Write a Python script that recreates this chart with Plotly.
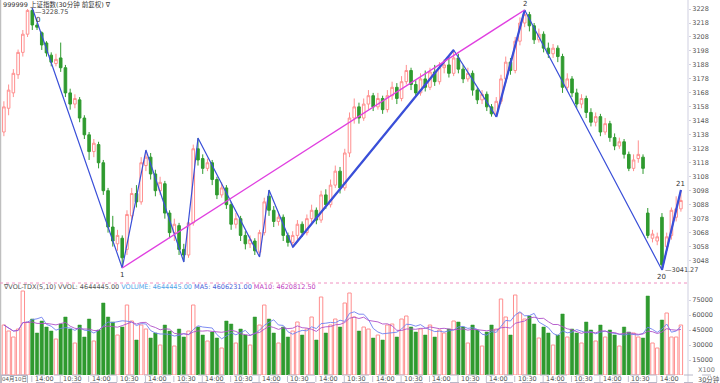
import plotly.graph_objects as go
import pandas as pd

# ---------------- data ----------------
opens = [3140,3157,3168,3181,3197,3210,3227,3216.5,3211,3203.7,3195,3189,3193,3186,3168,3160,3163,3150,3138,3126,
         3131,3118,3098,3072,3060,3064,3056,3080,3096,3090,3116,3122,3110,3098,3103,3082,3068,3073,3056,3052,
         3075,3128,3121,3114,3118,3106,3095,3100,3088,3074,3078,3066,3060,3062,3054,3068,3094,3084,3076,3079,
         3066,3061,3066,3074,3068,3078,3084,3077,3095,3088,3102,3112,3100,3125,3150,3158,3150,3160,3166,3158,
         3164,3156,3166,3172,3164,3176,3184,3174,3168,3178,3172,3183,3176,3186,3188,3182,3193,3185,3178,3182,
         3170,3163,3167,3158,3153,3162,3178,3190,3184,3205,3218,3224,3216,3206,3210,3200,3196,3200,3194,3172,
         3178,3168,3160,3164,3154,3147,3151,3140,3146,3136,3130,3133,3124,3114,3121,3122,3082,3064,3062,3079,
         3058,3066,3079,3085]
highs = [3162,3174,3185,3199,3213,3228,3228.75,3218,3212,3205,3197,3196,3204,3188,3171,3167,3165,3152,3140,3135,
         3133,3120,3100,3080,3070,3066,3084,3100,3102,3122,3127.1,3125,3113,3108,3105,3084,3078,3075,3060,3078,
         3131,3135.7,3124,3121,3120,3108,3104,3102,3090,3082,3080,3069,3066,3064,3070,3093,3098.5,3087,3083,3081,
         3068,3069,3077,3076,3081,3088,3086,3098,3099,3106,3116,3115,3128,3154,3164,3161,3164,3170,3168,3168,
         3166,3170,3176,3175,3180,3188,3186,3177,3182,3184,3186,3188,3190,3192,3194,3198.7,3196,3188,3186,3184,
         3172,3170,3169,3160,3165,3181,3194,3193,3208,3222,3227.3,3226,3218,3214,3212,3204,3203,3202,3196,3182,
         3180,3171,3167,3166,3157,3154,3153,3150,3148,3139,3136,3135,3126,3124,3134,3124,3085.6,3070,3068,3082,
         3068,3086,3094,3098.5]
lows = [3137,3152,3165,3178,3194,3208,3213,3213,3198.7,3194,3187,3187,3183,3165,3156,3157,3147,3135,3120,3122,
        3114,3095,3068,3058,3055,3042.7,3052,3077,3086,3088,3112,3106,3094,3095,3078,3064,3062,3052,3047,3050,
        3073,3116,3110,3112,3102,3092,3093,3085,3070,3071,3062,3056,3057,3052,3050.6,3066,3080,3072,3073,3062,
        3058,3057.7,3063,3065,3066,3075,3074,3075,3085,3086,3100,3096,3098,3122,3146,3146,3148,3156,3155,3156,
        3153,3154,3163,3160,3162,3174,3170,3165,3166,3169,3170,3173,3174,3182,3179,3180,3182,3175,3176,3166,
        3160,3160,3155,3151,3150.8,3160,3175,3181,3182,3202,3215,3212,3203,3204,3197,3193,3193,3190,3168,3170,
        3165,3157,3157,3150,3144,3144,3137,3138,3133,3127,3128,3121,3112,3112,3118,3110,3064,3061,3059,3041.27,
        3055,3063,3076,3083]
closes = [3158,3170,3182,3197,3210,3227,3216.6,3215,3202.3,3196.6,3190,3192,3186,3168,3160,3164,3150,3138,3126,3132,
          3118,3098,3072,3062,3066,3050,3081,3096,3090,3118,3122,3110,3098,3104,3082,3068,3074,3056,3052,3075,
          3128,3120,3114,3118,3106,3095,3100,3088,3074,3078,3066,3060,3063,3055,3068,3090,3084,3076,3079,3066,
          3061,3066,3074,3068,3078,3084,3077,3095,3088,3102,3112,3100,3125,3150,3158,3150,3160,3166,3158,3164,
          3156,3166,3172,3164,3176,3184,3174,3168,3178,3172,3183,3176,3186,3188,3182,3193,3185,3178,3182,3170,
          3163,3167,3158,3153,3162,3178,3190,3184,3205,3218,3224,3216,3206,3210,3200,3196,3200,3194,3172,3178,
          3168,3160,3164,3154,3147,3151,3140,3146,3136,3130,3133,3124,3114,3120,3124,3114,3066,3067,3065,3045,
          3065,3084,3085,3091]
volumes = [50000,44000,38000,46000,84000,53000,56000,42000,54000,48000,44000,36000,51000,58000,46000,32000,50000,38000,56000,34000,
           45000,72000,58000,53000,40000,48000,70000,54000,35000,50000,46000,37000,42000,30000,50000,44000,29000,46000,38000,44000,
           70000,48000,40000,34000,43000,37000,27000,54000,51000,32000,46000,40000,30000,58000,50000,70000,56000,42000,32000,48000,
           38000,44000,53000,40000,46000,58000,35000,78000,42000,50000,56000,48000,72000,82000,58000,44000,48000,46000,37000,40000,
           35000,50000,51000,38000,56000,59000,48000,43000,46000,40000,50000,38000,45000,42000,46000,54000,53000,48000,32000,50000,
           45000,29000,43000,50000,46000,76000,58000,40000,80000,62000,56000,59000,51000,37000,48000,42000,30000,40000,61000,38000,
           46000,42000,32000,53000,45000,34000,50000,38000,45000,40000,29000,48000,43000,42000,38000,37000,79000,32000,27000,55000,
           62000,38000,38000,50000]
bars = list(range(len(opens)))

tick_pos = [7,13,19,25,31,37,43,49,55,61,67,73,79,85,91,97,103,109,115,121,127,133,139]
tick_text = ["14:00","10:30","14:00","10:30","14:00","10:30","14:00","10:30","14:00","10:30","14:00","10:30",
             "14:00","10:30","14:00","10:30","14:00","10:30","14:00","10:30","14:00","10:30","14:00"]
price_ticks = [3048,3058,3068,3078,3088,3098,3108,3118,3128,3138,3148,3158,3168,3178,3188,3198,3208,3218,3228]
vol_ticks = [15000,30000,45000,60000,75000]

# zigzag turning points (bar index, price)
zig_x = [6,25,30,38,41,54,56,61,95,104,110,139,143]
zig_y = [3228.75,3042.7,3127.1,3047.0,3135.7,3050.6,3098.5,3057.7,3198.7,3150.8,3227.3,3041.27,3098.5]
thick_pairs = [(7,8),(9,10),(11,12)]
trend_pair = (1,10)
zig_labels = {0:"0",1:"1",10:"2",11:"20",12:"21"}

# ---------------- style ----------------
UP = "#ff8f8f"
DOWN = "#2f9a2f"
BLUE = "#3a4fd8"
MAG = "#e040e0"
AX = "#cfcfe0"
TXT = "#555555"
FONT = "DejaVu Sans, Noto Sans CJK SC, sans-serif"

ser = pd.Series(volumes, dtype=float)
ma5 = ser.rolling(5, min_periods=1).mean()
ma10 = ser.rolling(10, min_periods=1).mean()

fig = go.Figure()
fig.add_trace(go.Candlestick(
    x=bars, open=opens, high=highs, low=lows, close=closes,
    increasing=dict(line=dict(color=UP, width=1), fillcolor="white"),
    decreasing=dict(line=dict(color=DOWN, width=1), fillcolor=DOWN),
    whiskerwidth=0, xaxis="x", yaxis="y", showlegend=False, hoverinfo="skip"))

fig.add_trace(go.Scatter(x=zig_x, y=zig_y, mode="lines", line=dict(color=BLUE, width=1.2),
                         xaxis="x", yaxis="y", hoverinfo="skip"))
for a, b in thick_pairs:
    fig.add_trace(go.Scatter(x=[zig_x[a], zig_x[b]], y=[zig_y[a], zig_y[b]], mode="lines",
                             line=dict(color=BLUE, width=2.2), xaxis="x", yaxis="y", hoverinfo="skip"))
a, b = trend_pair
fig.add_trace(go.Scatter(x=[zig_x[a], zig_x[b]], y=[zig_y[a], zig_y[b]], mode="lines",
                         line=dict(color=MAG, width=1.4), xaxis="x", yaxis="y", hoverinfo="skip"))

up_x = [b for b, o, c in zip(bars, opens, closes) if c >= o]
up_v = [v for v, o, c in zip(volumes, opens, closes) if c >= o]
dn_x = [b for b, o, c in zip(bars, opens, closes) if c < o]
dn_v = [v for v, o, c in zip(volumes, opens, closes) if c < o]
fig.add_trace(go.Bar(x=up_x, y=up_v, width=0.72, marker=dict(color="white", line=dict(color=UP, width=1)),
                     xaxis="x2", yaxis="y2", hoverinfo="skip"))
fig.add_trace(go.Bar(x=dn_x, y=dn_v, width=0.72, marker=dict(color=DOWN, line=dict(color=DOWN, width=0.5)),
                     xaxis="x2", yaxis="y2", hoverinfo="skip"))
fig.add_trace(go.Scatter(x=bars, y=ma5, mode="lines", line=dict(color="#6f7ff0", width=0.9),
                         xaxis="x2", yaxis="y2", hoverinfo="skip"))
fig.add_trace(go.Scatter(x=bars, y=ma10, mode="lines", line=dict(color="#b050c8", width=0.9),
                         xaxis="x2", yaxis="y2", hoverinfo="skip"))

XR = [-0.82, 144.5]
PH = 375.0  # plot-area height in px

def py(px):
    return (PH - px) / PH

fig.update_layout(
    width=720, height=383, margin=dict(l=0, r=32, t=0, b=8, pad=0),
    paper_bgcolor="white", plot_bgcolor="white", showlegend=False, barmode="overlay",
    boxgap=0.22,
    font=dict(family=FONT, size=7, color=TXT),
    xaxis=dict(domain=[0, 1], range=XR, anchor="y", showticklabels=False, showgrid=False,
               zeroline=False, rangeslider=dict(visible=False), fixedrange=True),
    yaxis=dict(domain=[py(282), py(3)], range=[3032.67, 3232.32], side="right",
               tickvals=price_ticks, ticks="outside", ticklen=2, tickcolor=AX,
               showline=False, showgrid=False, zeroline=False, automargin=False,
               tickfont=dict(size=6.5, color=TXT, family=FONT)),
    xaxis2=dict(domain=[0, 1], range=XR, anchor="y2", showticklabels=False,
                ticks="", showgrid=False, zeroline=False, showline=False),
    yaxis2=dict(domain=[0, py(290)], range=[0, 85000], side="right", tickvals=vol_ticks,
                tickformat="d", ticks="outside", ticklen=2, tickcolor=AX, automargin=False,
                showgrid=False, zeroline=False, showline=False,
                tickfont=dict(size=6.5, color=TXT, family=FONT)),
)

shapes = [
    dict(type="line", xref="paper", yref="paper", x0=1, x1=1, y0=py(383), y1=1.0,
         line=dict(color=AX, width=1)),
    dict(type="line", xref="paper", yref="paper", x0=0.001, x1=0.001, y0=py(383), y1=1.0,
         line=dict(color="#b0b0b0", width=1)),
    dict(type="line", xref="paper", yref="paper", x0=0, x1=1, y0=py(283), y1=py(283),
         line=dict(color="#f090c0", width=1, dash="dot")),
    dict(type="line", xref="paper", yref="paper", x0=0, x1=1.045, y0=0, y1=0,
         line=dict(color="#b8b8c8", width=1, dash="dash")),
    dict(type="line", xref="paper", yref="paper", x0=0, x1=1.045, y0=py(382.5), y1=py(382.5),
         line=dict(color="#b8b8c8", width=1, dash="dash")),
]
for p in tick_pos:
    shapes.append(dict(type="line", xref="x2", yref="paper", x0=p - 1.1, x1=p - 1.1,
                       y0=py(382), y1=py(376), line=dict(color="#c0c0d0", width=1)))
fig.update_layout(shapes=shapes)

ann = [
    dict(xref="paper", yref="paper", x=0.002, y=py(4), xanchor="left", yanchor="middle",
         text="999999 上证指数(30分钟 前复权) ∇", showarrow=False, font=dict(size=6.5, color="#333")),
    dict(xref="paper", yref="paper", x=0.002, y=py(287), xanchor="left", yanchor="middle", showarrow=False,
         text=("<span style='color:#555'>∇VOL-TDX(5,10) VVOL: 4644445.00 </span>"
               "<span style='color:#4fa3e8'>VOLUME: 4644445.00 </span>"
               "<span style='color:#4a5fd8'>MA5: 4606231.00 </span>"
               "<span style='color:#c040c0'>MA10: 4620812.50</span>"),
         font=dict(size=6.5)),
    dict(xref="paper", yref="paper", x=0.002, y=py(379), xanchor="left", yanchor="middle",
         text="04月10日", showarrow=False, font=dict(size=5.5, color="#555"),
         bordercolor="#b8b8c8", borderwidth=1, borderpad=0, bgcolor="white"),
    dict(xref="paper", yref="paper", x=1.012, y=py(379), xanchor="left", yanchor="middle",
         text="30分钟", showarrow=False, font=dict(size=6.5, color="#555")),
    dict(xref="paper", yref="paper", x=1.012, y=py(370), xanchor="left", yanchor="middle",
         text="X100", showarrow=False, font=dict(size=6.5, color="#777")),
    dict(x=zig_x[0], y=zig_y[0], xref="x", yref="y", text="—%.2f" % zig_y[0], showarrow=False,
         xanchor="left", yanchor="middle", xshift=1, yshift=-4, font=dict(size=6.5, color="#444")),
    dict(x=zig_x[11], y=zig_y[11], xref="x", yref="y", text="—%.2f" % zig_y[11], showarrow=False,
         xanchor="left", yanchor="middle", xshift=1, font=dict(size=6.5, color="#444")),
]
for p, t in zip(tick_pos, tick_text):
    ann.append(dict(x=p - 0.9, y=py(379), xref="x2", yref="paper", text=t, showarrow=False,
                    xanchor="left", yanchor="middle", font=dict(size=6.5, color="#555")))
for k, lab in zig_labels.items():
    if k == 0:
        ann.append(dict(x=zig_x[k], y=zig_y[k], xref="x", yref="y", text=lab, showarrow=False,
                        xshift=6, yshift=-12, font=dict(size=7, color="#333")))
    elif zig_y[k] > zig_y[k - 1]:
        ann.append(dict(x=zig_x[k], y=zig_y[k], xref="x", yref="y", text=lab, showarrow=False,
                        yshift=6, font=dict(size=7, color="#333")))
    else:
        ann.append(dict(x=zig_x[k], y=zig_y[k], xref="x", yref="y", text=lab, showarrow=False,
                        yshift=-7, font=dict(size=7, color="#333")))
fig.update_layout(annotations=ann)

fig.write_html("out.html", config={"displayModeBar": False},
               post_script="document.body.style.margin='0';document.body.style.overflow='hidden';")
